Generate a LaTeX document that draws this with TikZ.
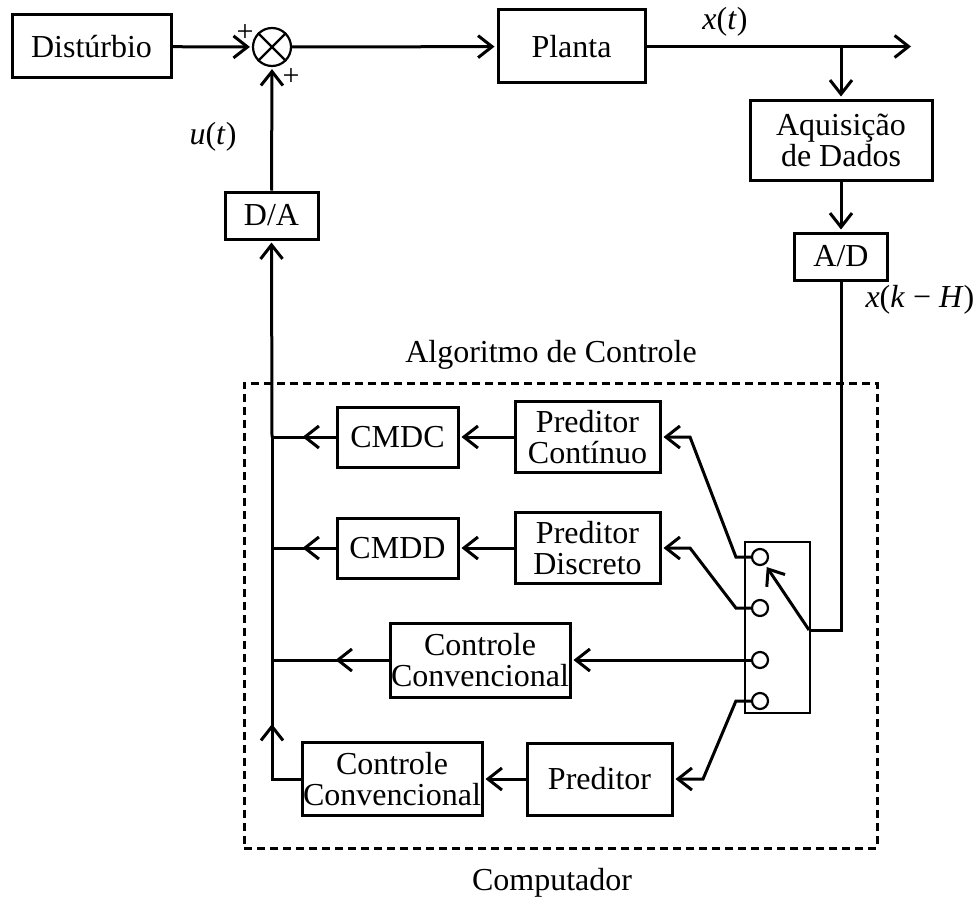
\documentclass[tikz,border=0pt]{standalone}
\usepackage{fontspec}
\setmainfont{Liberation Serif}
\usetikzlibrary{arrows.meta}

\begin{document}
\begin{tikzpicture}
   [x=0.5pt,y=-0.5pt,line width=1.5pt,
    font=\fontsize{16}{15.5}\selectfont,
    block/.style={draw,rectangle,line width=1.5pt,align=center,inner sep=0pt},
    arr/.style={-{Straight Barb[length=7pt,width=11pt]},shorten >=1pt},
    contact/.style={draw,circle,fill=white,line width=1.1pt,minimum size=8pt,inner sep=0pt},
    lbl/.style={inner sep=0pt},
    sgn/.style={inner sep=0pt,font=\fontsize{15}{15}\selectfont}]

  \useasboundingbox (0,0) rectangle (977,899);

  % top loop
  \node[block,minimum width=79.5pt,minimum height=31.5pt] (dist) at (91.5,46.5) {Distúrbio};
  \node[draw,circle,line width=1.1pt,minimum size=19pt,inner sep=0pt] (sum) at (272,47) {};
  \draw[line width=1.1pt] (sum.north west) -- (sum.south east) (sum.north east) -- (sum.south west);
  \node[block,minimum width=73.5pt,minimum height=36.5pt] (planta) at (571.5,46.5) {Planta};
  \node[block,minimum width=91pt,minimum height=40pt] (aquis) at (841,140) {Aquisição\\de Dados};
  \node[block,minimum width=46.5pt,minimum height=23.5pt] (ad) at (841,256.5) {A/D};
  \node[block,minimum width=46.5pt,minimum height=23.5pt] (da) at (271.5,215.5) {D/A};
  \coordinate (out) at (913,46.5);
  \coordinate (br) at (841,46.5);

  \node[sgn] (p1) at (245,33) {+};
  \node[sgn] (p2) at (291,77) {+};
  \node[lbl] (xt) at (725,22) {\textit{x}(\textit{t})};
  \node[lbl] (ut) at (213,137) {\textit{u}(\textit{t})};
  \node[lbl,anchor=west] (xk) at (864,300) {\textit{x}(\textit{k}\hspace{4pt}−\hspace{4pt}\textit{H})};

  % computer
  \node[draw,dashed,dash pattern=on 4pt off 2.5pt,line width=1.5pt,
        minimum width=316.5pt,minimum height=232.5pt] (comp) at (560.5,615.5) {};
  \node[lbl] (alg) at (551,355) {Algoritmo de Controle};
  \node[lbl] (cpu) at (552,883) {Computador};

  \node[block,minimum width=60.5pt,minimum height=30pt] (cmdc) at (397.5,437) {CMDC};
  \node[block,minimum width=72.5pt,minimum height=35.5pt] (predc) at (587.5,437) {Preditor\\Contínuo};
  \node[block,minimum width=60.5pt,minimum height=30pt] (cmdd) at (397.5,548) {CMDD};
  \node[block,minimum width=72.5pt,minimum height=35.5pt] (predd) at (587.5,548) {Preditor\\Discreto};
  \node[block,minimum width=90pt,minimum height=37pt] (conv1) at (480,660) {Controle\\Convencional};
  \node[block,minimum width=90pt,minimum height=36.5pt] (conv2) at (392,779) {Controle\\Convencional};
  \node[block,minimum width=72.5pt,minimum height=36pt] (pred) at (599.5,779) {Preditor};

  % switch
  \node[draw,line width=1pt,minimum width=32.5pt,minimum height=85.5pt] (sw) at (777.5,627.5) {};
  \node[contact] (c1) at (760,557) {};
  \node[contact] (c2) at (760,608) {};
  \node[contact] (c3) at (760,660) {};
  \node[contact] (c4) at (760,701) {};
  \coordinate (swin) at (809,630);

  % bus
  \coordinate (b1) at (272,437);
  \coordinate (b2) at (272,548);
  \coordinate (b3) at (272,660);
  \coordinate (b4) at (272,779);

  \foreach \from/\to in {dist/sum, sum/planta, aquis/ad, predc/cmdc, predd/cmdd, pred/conv2, c3/conv1}
    \draw[arr] (\from) -- (\to);

  \draw[arr] (planta.east) -- (out);
  \draw[arr] (br) -- (aquis.north);
  \draw[arr] (da.north) -- (sum.south);
  \draw (ad.south) |- (swin);
  \draw[arr,shorten >=1.5pt] (swin) -- (c1);

  \draw[arr] (c1.west) -- ++(-15,0) -- (690,437) -- (predc.east);
  \draw[arr] (c2.west) -- ++(-15,0) -- (690,548) -- (predd.east);
  \draw[arr] (c4.west) -- ++(-15,0) -- (703,779) -- (pred.east);

  \draw (cmdc.west) -- (b1);
  \draw (cmdd.west) -- (b2);
  \draw (conv1.west) -- (b3);
  \draw[arr] (cmdc.west) -- ++(-35,0);
  \draw[arr] (cmdd.west) -- ++(-35,0);
  \draw[arr] (conv1.west) -- ++(-55,0);
  \draw (conv2.west) -- (b4) -- (b1);
  \draw[arr] (b4) -- ++(0,-57);
  \draw[arr] (b1) -- (da.south);

\end{tikzpicture}
\end{document}
